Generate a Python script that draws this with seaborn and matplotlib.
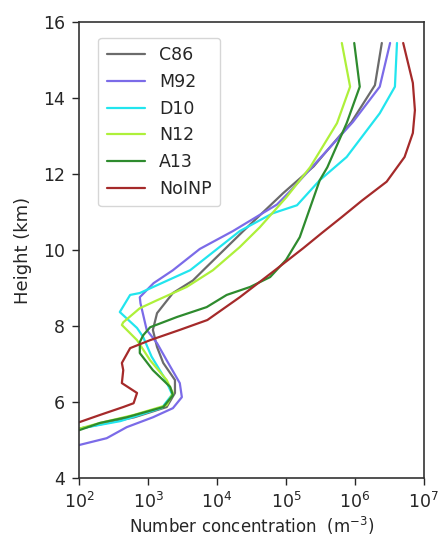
import numpy as np
import matplotlib
matplotlib.use("Agg")
import matplotlib.pyplot as plt
import seaborn as sns

# values: log10 of number concentration (m^-3) vs height (km)
c86_height = [15.45, 14.34, 13.37, 12.2, 11.5, 10.5, 9.47, 9.2, 8.87, 8.34, 7.9, 7.45, 7.03, 6.58, 6.24, 5.87, 5.6, 5.3]
c86_log10 = [6.39, 6.29, 5.95, 5.4, 4.96, 4.38, 3.8, 3.65, 3.36, 3.13, 3.07, 3.13, 3.22, 3.39, 3.39, 3.27, 2.8, 2.0]

m92_height = [15.45, 14.3, 13.37, 11.55, 11.2, 10.5, 10.03, 9.47, 9.13, 8.76, 8.6, 7.9, 7.55, 7.1, 6.5, 6.13, 5.84, 5.6, 5.34, 5.05, 4.87]
m92_log10 = [6.51, 6.36, 5.97, 5.06, 4.87, 4.23, 3.75, 3.36, 3.08, 2.88, 2.89, 2.98, 3.13, 3.27, 3.46, 3.49, 3.36, 3.07, 2.69, 2.4, 2.0]

d10_height = [15.45, 14.3, 13.6, 12.45, 11.84, 11.18, 10.97, 10.5, 9.47, 8.87, 8.82, 8.37, 7.95, 7.71, 7.2, 6.6, 6.2, 5.85, 5.5, 5.3]
d10_log10 = [6.61, 6.58, 6.36, 5.88, 5.49, 5.16, 4.81, 4.33, 3.61, 2.88, 2.74, 2.59, 2.84, 2.93, 3.05, 3.25, 3.35, 3.2, 2.6, 2.0]

n12_height = [15.45, 14.3, 13.34, 12.18, 11.4, 10.6, 10.08, 9.47, 9.03, 8.68, 8.47, 8.1, 8.03, 7.63, 7.1, 6.58, 6.24, 5.92, 5.66, 5.45, 5.3]
n12_log10 = [5.81, 5.93, 5.74, 5.35, 5.01, 4.62, 4.33, 3.94, 3.56, 3.13, 2.88, 2.64, 2.62, 2.84, 3.03, 3.27, 3.36, 3.27, 2.79, 2.3, 2.0]

a13_height = [15.45, 14.3, 13.34, 12.18, 11.84, 10.34, 9.74, 9.29, 9.03, 8.82, 8.5, 8.24, 7.97, 7.76, 7.58, 7.29, 6.84, 6.4, 6.18, 5.87, 5.6, 5.45, 5.26]
a13_log10 = [5.99, 6.07, 5.88, 5.6, 5.49, 5.2, 5.0, 4.77, 4.48, 4.14, 3.85, 3.42, 3.03, 2.93, 2.88, 2.88, 3.07, 3.32, 3.36, 3.22, 2.69, 2.3, 2.0]

noinp_height = [15.45, 14.4, 13.68, 13.08, 12.45, 11.8, 11.3, 10.87, 10.45, 10.05, 9.47, 8.76, 8.16, 7.9, 7.63, 7.42, 7.03, 6.84, 6.5, 6.24, 5.97, 5.87, 5.66, 5.47]
noinp_log10 = [6.70, 6.84, 6.87, 6.84, 6.72, 6.46, 6.1, 5.81, 5.52, 5.25, 4.84, 4.33, 3.86, 3.46, 3.03, 2.74, 2.62, 2.64, 2.62, 2.84, 2.79, 2.64, 2.3, 2.0]

labels = ["C86", "M92", "D10", "N12", "A13", "NoINP"]
colors = ["#6b6b6b", "#7b6be8", "#22e5ee", "#aef03a", "#2e8b2e", "#a52a2a"]
heights = [c86_height, m92_height, d10_height, n12_height, a13_height, noinp_height]
concs = [c86_log10, m92_log10, d10_log10, n12_log10, a13_log10, noinp_log10]

sns.set_style("ticks")
plt.rcParams['font.family'] = ['DejaVu Sans']

fig = plt.figure(figsize=(4.42, 5.39), dpi=100)
ax = fig.add_axes([0.179, 0.113, 0.78, 0.846])

for lab, col, h, c in zip(labels, colors, heights, concs):
    sns.lineplot(x=np.power(10.0, c), y=h, sort=False, estimator=None,
                 color=col, label=lab, linewidth=1.6, ax=ax)

ax.set_xscale("log")
ax.set_xlim(1e2, 1e7)
ax.set_ylim(4, 16)
ax.set_yticks([4, 6, 8, 10, 12, 14, 16])
ax.minorticks_off()
ax.tick_params(labelsize=12.5, length=5, width=1, pad=5)
for s in ax.spines.values():
    s.set_linewidth(1.2)
    s.set_color("#333333")

ax.set_xlabel("Number concentration  (m$^{-3}$)", fontsize=12, labelpad=2)
ax.set_ylabel("Height (km)", fontsize=13, labelpad=8)

ax.legend(loc="upper left", fontsize=12.5, labelspacing=0.5, handlelength=2.2,
          borderpad=0.5, bbox_to_anchor=(0.03, 0.985), frameon=True)

fig.savefig("out.png", dpi=100)
